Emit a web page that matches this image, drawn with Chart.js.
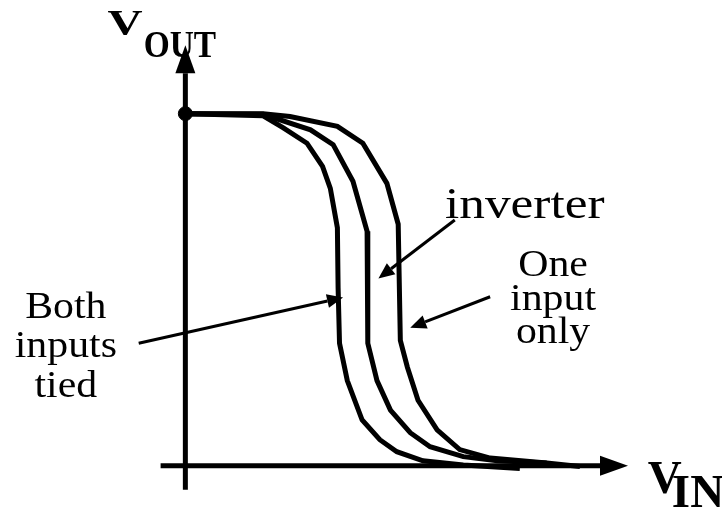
<!DOCTYPE html>
<html lang="en">
<head>
    <meta charset="UTF-8">
    <title>Inverter vs NAND VTC</title>
    <script src="https://cdn.jsdelivr.net/npm/chart.js"></script>
    <style>
        body { margin: 0; background: #fff; }
        .chart-container { width: 722px; height: 510px; }
    </style>
</head>
<body>
    <div class="chart-container">
        <canvas id="vtc"></canvas>
    </div>
    <script>
        // curves (Vdd = 5)
        const vinBoth = [0, 1.10, 1.38, 1.72, 1.94, 2.05, 2.15, 2.16, 2.18, 2.29, 2.50, 2.75, 2.99, 3.36, 3.93, 4.73];
        const voutBoth = [5.00, 4.97, 4.80, 4.58, 4.25, 3.94, 3.38, 2.53, 1.74, 1.21, 0.65, 0.37, 0.20, 0.07, 0.01, -0.04];

        const vinInv = [0, 1.10, 1.77, 2.09, 2.37, 2.57, 2.58, 2.71, 2.90, 3.18, 3.46, 3.93, 4.41, 5.11];
        const voutInv = [5.00, 4.99, 4.77, 4.56, 4.04, 3.33, 1.74, 1.21, 0.79, 0.47, 0.27, 0.13, 0.07, 0.04];

        const vinOne = [0, 1.10, 1.48, 2.15, 2.51, 2.85, 3.01, 3.04, 3.14, 3.29, 3.56, 3.88, 4.31, 5.11, 5.58];
        const voutOne = [5.00, 5.00, 4.96, 4.82, 4.58, 4.01, 3.43, 1.78, 1.40, 0.93, 0.51, 0.23, 0.11, 0.04, -0.01];

        const vdd = 5;
        const xAxisRange = [-0.35, 6.26];
        const yAxisRange = [-0.34, 5.97];

        const bothLabel = ['Both', 'inputs', 'tied'];
        const oneLabel = ['One', 'input', 'only'];
        const invLabel = 'inverter';

        const toPoints = (xs, ys) => xs.map((x, i) => ({ x: x, y: ys[i] }));

        function arrow(ctx, x1, y1, x2, y2, len, half, width) {
            const a = Math.atan2(y2 - y1, x2 - x1);
            const bx = x2 - len * Math.cos(a), by = y2 - len * Math.sin(a);
            ctx.lineWidth = width;
            ctx.beginPath();
            ctx.moveTo(x1, y1);
            ctx.lineTo(bx, by);
            ctx.stroke();
            ctx.beginPath();
            ctx.moveTo(x2, y2);
            ctx.lineTo(bx + half * Math.sin(a), by - half * Math.cos(a));
            ctx.lineTo(bx - half * Math.sin(a), by + half * Math.cos(a));
            ctx.closePath();
            ctx.fill();
        }

        function text(ctx, str, x, y, font, sx, align) {
            ctx.save();
            ctx.font = font;
            ctx.textAlign = align || 'left';
            ctx.textBaseline = 'alphabetic';
            ctx.translate(x, y);
            ctx.scale(sx, 1);
            ctx.fillText(str, 0, 0);
            ctx.restore();
        }

        const drawing = {
            id: 'drawing',
            beforeDatasetsDraw(chart) {
                const ctx = chart.ctx;
                const xs = chart.scales.x, ys = chart.scales.y;
                ctx.save();
                ctx.strokeStyle = '#000';
                ctx.fillStyle = '#000';
                // axes with arrow heads
                arrow(ctx, xs.getPixelForValue(xAxisRange[0]), ys.getPixelForValue(0),
                      xs.getPixelForValue(xAxisRange[1]), ys.getPixelForValue(0), 28, 10, 5);
                arrow(ctx, xs.getPixelForValue(0), ys.getPixelForValue(yAxisRange[0]),
                      xs.getPixelForValue(0), ys.getPixelForValue(yAxisRange[1]), 28, 10, 5);
                ctx.restore();
            },
            afterDatasetsDraw(chart) {
                const ctx = chart.ctx;
                const X = v => chart.scales.x.getPixelForValue(v);
                const Y = v => chart.scales.y.getPixelForValue(v);
                ctx.save();
                ctx.strokeStyle = '#000';
                ctx.fillStyle = '#000';

                // pointer arrows
                arrow(ctx, X(-0.66), Y(1.74), X(2.23), Y(2.39), 16, 7, 3);
                arrow(ctx, X(3.81), Y(3.49), X(2.73), Y(2.66), 16, 7, 3);
                arrow(ctx, X(4.31), Y(2.40), X(3.18), Y(1.96), 16, 7, 3);

                // axis titles
                const bold = 'bold 36px "Liberation Serif", "DejaVu Serif", serif';
                text(ctx, 'V', X(-1.10), Y(6.12), bold, 1.35);
                text(ctx, 'OUT', X(-0.59), Y(5.81), 'bold 38px "Liberation Serif", serif', 0.88);
                text(ctx, 'V', X(6.54), Y(-0.38), 'bold 47px "Liberation Serif", serif', 1);
                text(ctx, 'IN', X(6.88), Y(-0.58), 'bold 47px "Liberation Serif", serif', 1);

                // curve labels
                const serif = '38px "Liberation Serif", "DejaVu Serif", serif';
                const bothY = [2.10, 1.55, 0.98];
                bothLabel.forEach((s, i) => text(ctx, s, X(-1.69), Y(bothY[i]), serif, 1.1, 'center'));
                const oneY = [2.70, 2.21, 1.74];
                oneLabel.forEach((s, i) => text(ctx, s, X(5.20), Y(oneY[i]), serif, 1.1, 'center'));
                text(ctx, invLabel, X(4.80), Y(3.52), '45px "Liberation Serif", serif', 1.14, 'center');
                ctx.restore();
            }
        };

        const curveStyle = {
            showLine: true,
            borderColor: '#000',
            borderWidth: 5,
            pointRadius: 0,
            tension: 0,
            fill: false,
            clip: false
        };

        new Chart(document.getElementById('vtc'), {
            type: 'scatter',
            data: {
                datasets: [
                    Object.assign({ label: 'Both inputs tied', data: toPoints(vinBoth, voutBoth) }, curveStyle),
                    Object.assign({ label: 'inverter', data: toPoints(vinInv, voutInv) }, curveStyle),
                    Object.assign({ label: 'One input only', data: toPoints(vinOne, voutOne) }, curveStyle),
                    {
                        label: 'Vdd',
                        data: [{ x: 0, y: vdd }],
                        pointRadius: 7,
                        pointBackgroundColor: '#000',
                        pointBorderColor: '#000',
                        clip: false
                    }
                ]
            },
            options: {
                responsive: true,
                maintainAspectRatio: false,
                animation: false,
                layout: { padding: { left: 150, right: 77, top: 6, bottom: 9 } },
                scales: {
                    x: { type: 'linear', min: -0.5, max: 6.5, display: false },
                    y: { type: 'linear', min: -0.5, max: 6.5, display: false }
                },
                plugins: {
                    legend: { display: false },
                    tooltip: { enabled: false }
                }
            },
            plugins: [drawing]
        });
    </script>
</body>
</html>
